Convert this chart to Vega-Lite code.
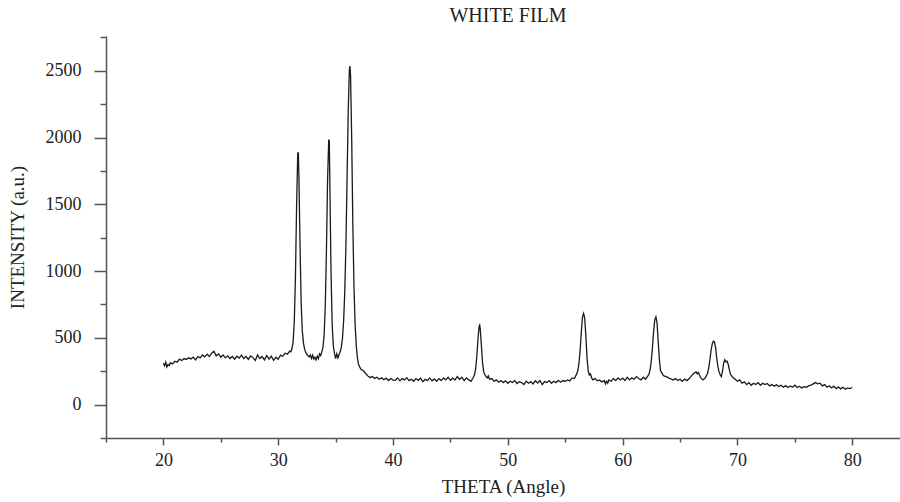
{
  "$schema": "https://vega.github.io/schema/vega-lite/v6.json",
  "autosize": "none",
  "padding": {"left": 106, "top": 36, "right": 0, "bottom": 64},
  "width": 794,
  "height": 402,
  "background": "white",
  "title": {"text": "WHITE FILM", "font": "Liberation Serif", "fontSize": 20, "fontWeight": "normal", "color": "#222", "anchor": "middle", "offset": 10, "dx": 5},
  "config": {"view": {"stroke": null}},
  "data": {"values": [
    {"t":20.0,"i":310},{"t":20.1,"i":290},{"t":20.2,"i":318},{"t":20.3,"i":282},{"t":20.4,"i":300},{"t":20.5,"i":292},{"t":20.6,"i":312},{"t":20.8,"i":305},
    {"t":21.0,"i":325},{"t":21.2,"i":318},{"t":21.4,"i":340},{"t":21.6,"i":330},{"t":21.8,"i":345},{"t":22.0,"i":338},{"t":22.2,"i":350},{"t":22.4,"i":342},{"t":22.6,"i":355},{"t":22.8,"i":335},
    {"t":23.0,"i":360},{"t":23.2,"i":350},{"t":23.4,"i":372},{"t":23.6,"i":358},{"t":23.8,"i":378},{"t":24.0,"i":360},{"t":24.2,"i":385},{"t":24.4,"i":400},{"t":24.6,"i":365},{"t":24.8,"i":380},
    {"t":25.0,"i":355},{"t":25.2,"i":372},{"t":25.4,"i":350},{"t":25.6,"i":365},{"t":25.8,"i":345},{"t":26.0,"i":360},{"t":26.2,"i":340},{"t":26.4,"i":362},{"t":26.6,"i":348},{"t":26.8,"i":370},
    {"t":27.0,"i":345},{"t":27.2,"i":360},{"t":27.4,"i":338},{"t":27.6,"i":365},{"t":27.8,"i":352},{"t":28.0,"i":330},{"t":28.2,"i":372},{"t":28.4,"i":345},{"t":28.6,"i":360},{"t":28.8,"i":335},
    {"t":29.0,"i":368},{"t":29.2,"i":340},{"t":29.4,"i":362},{"t":29.6,"i":332},{"t":29.8,"i":355},{"t":30.0,"i":340},{"t":30.2,"i":370},{"t":30.4,"i":362},{"t":30.6,"i":385},{"t":30.8,"i":378},
    {"t":31.0,"i":400},{"t":31.1,"i":395},{"t":31.2,"i":420},{"t":31.3,"i":470},{"t":31.4,"i":620},{"t":31.5,"i":950},{"t":31.6,"i":1480},{"t":31.7,"i":1880},{"t":31.75,"i":1890},{"t":31.8,"i":1720},{"t":31.9,"i":1200},
    {"t":32.0,"i":760},{"t":32.1,"i":550},{"t":32.2,"i":460},{"t":32.3,"i":415},{"t":32.4,"i":390},{"t":32.5,"i":375},{"t":32.6,"i":365},{"t":32.7,"i":358},{"t":32.8,"i":372},{"t":32.9,"i":345},
    {"t":33.0,"i":370},{"t":33.1,"i":340},{"t":33.2,"i":355},{"t":33.3,"i":335},{"t":33.4,"i":362},{"t":33.5,"i":345},{"t":33.6,"i":380},{"t":33.7,"i":368},{"t":33.8,"i":395},{"t":33.9,"i":430},
    {"t":34.0,"i":520},{"t":34.1,"i":740},{"t":34.2,"i":1150},{"t":34.3,"i":1680},{"t":34.4,"i":1985},{"t":34.45,"i":1975},{"t":34.5,"i":1650},{"t":34.6,"i":1000},{"t":34.7,"i":600},{"t":34.8,"i":440},{"t":34.9,"i":385},
    {"t":35.0,"i":345},{"t":35.1,"i":380},{"t":35.2,"i":350},{"t":35.3,"i":375},{"t":35.4,"i":395},{"t":35.5,"i":430},{"t":35.6,"i":500},{"t":35.7,"i":630},{"t":35.8,"i":850},{"t":35.9,"i":1200},
    {"t":36.0,"i":1700},{"t":36.1,"i":2200},{"t":36.2,"i":2510},{"t":36.25,"i":2535},{"t":36.3,"i":2470},{"t":36.4,"i":2000},{"t":36.5,"i":1350},{"t":36.6,"i":880},{"t":36.7,"i":600},{"t":36.8,"i":440},{"t":36.9,"i":350},
    {"t":37.0,"i":300},{"t":37.2,"i":265},{"t":37.4,"i":255},{"t":37.6,"i":235},{"t":37.8,"i":215},{"t":38.0,"i":202},{"t":38.2,"i":210},{"t":38.4,"i":196},{"t":38.6,"i":205},{"t":38.8,"i":190},
    {"t":39.0,"i":200},{"t":39.2,"i":186},{"t":39.4,"i":198},{"t":39.6,"i":180},{"t":39.8,"i":195},{"t":40.0,"i":184},{"t":40.2,"i":182},{"t":40.4,"i":200},{"t":40.6,"i":178},{"t":40.8,"i":195},
    {"t":41.0,"i":185},{"t":41.2,"i":202},{"t":41.4,"i":180},{"t":41.6,"i":190},{"t":41.8,"i":175},{"t":42.0,"i":195},{"t":42.2,"i":182},{"t":42.4,"i":198},{"t":42.6,"i":172},{"t":42.8,"i":190},
    {"t":43.0,"i":180},{"t":43.2,"i":200},{"t":43.4,"i":178},{"t":43.6,"i":192},{"t":43.8,"i":175},{"t":44.0,"i":195},{"t":44.2,"i":180},{"t":44.4,"i":200},{"t":44.6,"i":185},{"t":44.8,"i":205},
    {"t":45.0,"i":182},{"t":45.2,"i":198},{"t":45.4,"i":185},{"t":45.6,"i":210},{"t":45.8,"i":190},{"t":46.0,"i":205},{"t":46.2,"i":180},{"t":46.4,"i":200},{"t":46.6,"i":185},{"t":46.8,"i":175},
    {"t":47.0,"i":205},{"t":47.1,"i":225},{"t":47.2,"i":270},{"t":47.3,"i":360},{"t":47.4,"i":490},{"t":47.5,"i":585},{"t":47.55,"i":595},{"t":47.6,"i":565},{"t":47.7,"i":440},{"t":47.8,"i":310},{"t":47.9,"i":245},
    {"t":48.0,"i":225},{"t":48.1,"i":210},{"t":48.2,"i":200},{"t":48.3,"i":215},{"t":48.4,"i":190},{"t":48.6,"i":195},{"t":48.8,"i":175},{"t":49.0,"i":185},{"t":49.2,"i":168},{"t":49.4,"i":180},{"t":49.6,"i":165},{"t":49.8,"i":178},
    {"t":50.0,"i":160},{"t":50.2,"i":175},{"t":50.4,"i":165},{"t":50.6,"i":180},{"t":50.8,"i":158},{"t":51.0,"i":172},{"t":51.2,"i":165},{"t":51.4,"i":150},{"t":51.6,"i":175},{"t":51.8,"i":160},
    {"t":52.0,"i":172},{"t":52.2,"i":155},{"t":52.4,"i":178},{"t":52.6,"i":162},{"t":52.8,"i":180},{"t":53.0,"i":150},{"t":53.2,"i":172},{"t":53.4,"i":165},{"t":53.6,"i":180},{"t":53.8,"i":160},
    {"t":54.0,"i":175},{"t":54.2,"i":165},{"t":54.4,"i":182},{"t":54.6,"i":168},{"t":54.8,"i":180},{"t":55.0,"i":175},{"t":55.2,"i":185},{"t":55.4,"i":178},{"t":55.6,"i":200},{"t":55.8,"i":195},
    {"t":56.0,"i":230},{"t":56.1,"i":255},{"t":56.2,"i":310},{"t":56.3,"i":410},{"t":56.4,"i":540},{"t":56.5,"i":655},{"t":56.6,"i":682},{"t":56.7,"i":645},{"t":56.8,"i":510},{"t":56.9,"i":350},
    {"t":57.0,"i":255},{"t":57.1,"i":222},{"t":57.2,"i":230},{"t":57.3,"i":200},{"t":57.4,"i":185},{"t":57.6,"i":195},{"t":57.8,"i":178},{"t":58.0,"i":185},{"t":58.2,"i":170},{"t":58.4,"i":180},{"t":58.5,"i":155},{"t":58.6,"i":175},{"t":58.7,"i":160},{"t":58.8,"i":185},
    {"t":59.0,"i":175},{"t":59.2,"i":195},{"t":59.4,"i":180},{"t":59.6,"i":200},{"t":59.8,"i":185},{"t":60.0,"i":198},{"t":60.2,"i":180},{"t":60.4,"i":205},{"t":60.6,"i":185},{"t":60.8,"i":200},
    {"t":61.0,"i":190},{"t":61.2,"i":210},{"t":61.4,"i":195},{"t":61.6,"i":185},{"t":61.8,"i":205},{"t":62.0,"i":190},{"t":62.2,"i":215},{"t":62.3,"i":228},{"t":62.4,"i":265},{"t":62.5,"i":330},{"t":62.6,"i":430},{"t":62.7,"i":550},{"t":62.8,"i":635},{"t":62.9,"i":657},
    {"t":63.0,"i":610},{"t":63.1,"i":470},{"t":63.2,"i":340},{"t":63.3,"i":255},{"t":63.4,"i":240},{"t":63.5,"i":225},{"t":63.6,"i":215},{"t":63.8,"i":210},{"t":64.0,"i":200},{"t":64.2,"i":192},{"t":64.4,"i":185},{"t":64.6,"i":195},{"t":64.8,"i":180},
    {"t":65.0,"i":190},{"t":65.2,"i":175},{"t":65.4,"i":192},{"t":65.6,"i":180},{"t":65.8,"i":195},{"t":66.0,"i":215},{"t":66.2,"i":235},{"t":66.4,"i":245},{"t":66.5,"i":230},{"t":66.6,"i":240},{"t":66.8,"i":200},
    {"t":67.0,"i":185},{"t":67.2,"i":200},{"t":67.4,"i":235},{"t":67.5,"i":275},{"t":67.6,"i":335},{"t":67.7,"i":405},{"t":67.8,"i":452},{"t":67.9,"i":475},{"t":68.0,"i":470},{"t":68.1,"i":425},{"t":68.2,"i":345},{"t":68.3,"i":285},{"t":68.4,"i":245},{"t":68.5,"i":222},{"t":68.6,"i":210},{"t":68.7,"i":250},{"t":68.8,"i":310},{"t":68.9,"i":335},
    {"t":69.0,"i":320},{"t":69.1,"i":325},{"t":69.2,"i":300},{"t":69.3,"i":260},{"t":69.4,"i":225},{"t":69.6,"i":205},{"t":69.8,"i":190},{"t":70.0,"i":175},{"t":70.2,"i":185},{"t":70.4,"i":160},{"t":70.6,"i":170},{"t":70.8,"i":150},
    {"t":71.0,"i":165},{"t":71.2,"i":145},{"t":71.4,"i":160},{"t":71.6,"i":150},{"t":71.8,"i":165},{"t":72.0,"i":145},{"t":72.2,"i":160},{"t":72.4,"i":150},{"t":72.6,"i":158},{"t":72.8,"i":140},
    {"t":73.0,"i":150},{"t":73.2,"i":138},{"t":73.4,"i":148},{"t":73.6,"i":135},{"t":73.8,"i":145},{"t":74.0,"i":130},{"t":74.2,"i":142},{"t":74.4,"i":128},{"t":74.6,"i":140},{"t":74.8,"i":130},
    {"t":75.0,"i":145},{"t":75.2,"i":128},{"t":75.4,"i":138},{"t":75.6,"i":125},{"t":75.8,"i":135},{"t":76.0,"i":130},{"t":76.2,"i":140},{"t":76.4,"i":145},{"t":76.6,"i":155},{"t":76.8,"i":165},
    {"t":77.0,"i":155},{"t":77.2,"i":160},{"t":77.4,"i":140},{"t":77.6,"i":150},{"t":77.8,"i":130},{"t":78.0,"i":140},{"t":78.2,"i":125},{"t":78.4,"i":138},{"t":78.6,"i":120},{"t":78.8,"i":132},
    {"t":79.0,"i":118},{"t":79.2,"i":130},{"t":79.4,"i":115},{"t":79.6,"i":125},{"t":79.8,"i":120},{"t":80.0,"i":128}
  ]},
  "mark": {"type": "line", "color": "#1a1a1a", "strokeWidth": 1.3, "clip": true},
  "encoding": {
    "x": {"field": "t", "type": "quantitative",
      "scale": {"domain": [15, 84.16], "nice": false, "zero": false},
      "axis": {"title": "THETA (Angle)", "values": [15,20,25,30,35,40,45,50,55,60,65,70,75,80],
        "labelExpr": "datum.value % 10 === 0 ? datum.label : ''",
        "grid": false, "domainColor": "#555", "domainWidth": 1.5, "tickColor": "#555", "tickWidth": 1.5,
        "tickSize": {"condition": {"test": "datum.value % 10 === 0", "value": 7}, "value": 4},
        "labelPadding": 6, "labelFont": "Liberation Serif", "labelFontSize": 18, "labelColor": "#222",
        "titleFont": "Liberation Serif", "titleFontSize": 19, "titleFontWeight": "normal", "titleColor": "#222", "titlePadding": 8, "labelFlush": false}},
    "y": {"field": "i", "type": "quantitative",
      "scale": {"domain": [-250, 2760], "nice": false, "zero": false},
      "axis": {"title": "INTENSITY (a.u.)", "values": [-250,0,250,500,750,1000,1250,1500,1750,2000,2250,2500,2750],
        "labelExpr": "datum.value % 500 === 0 && datum.value >= 0 ? datum.label : ''",
        "format": "d",
        "grid": false, "domainColor": "#555", "domainWidth": 1.5, "tickColor": "#555", "tickWidth": 1.5,
        "tickSize": {"condition": {"test": "datum.value % 500 === 0", "value": 12}, "value": 6},
        "labelPadding": 13, "labelFont": "Liberation Serif", "labelFontSize": 18, "labelColor": "#222",
        "titleFont": "Liberation Serif", "titleFontSize": 19, "titleFontWeight": "normal", "titleColor": "#222", "titlePadding": 18, "labelFlush": false}}
  }
}
